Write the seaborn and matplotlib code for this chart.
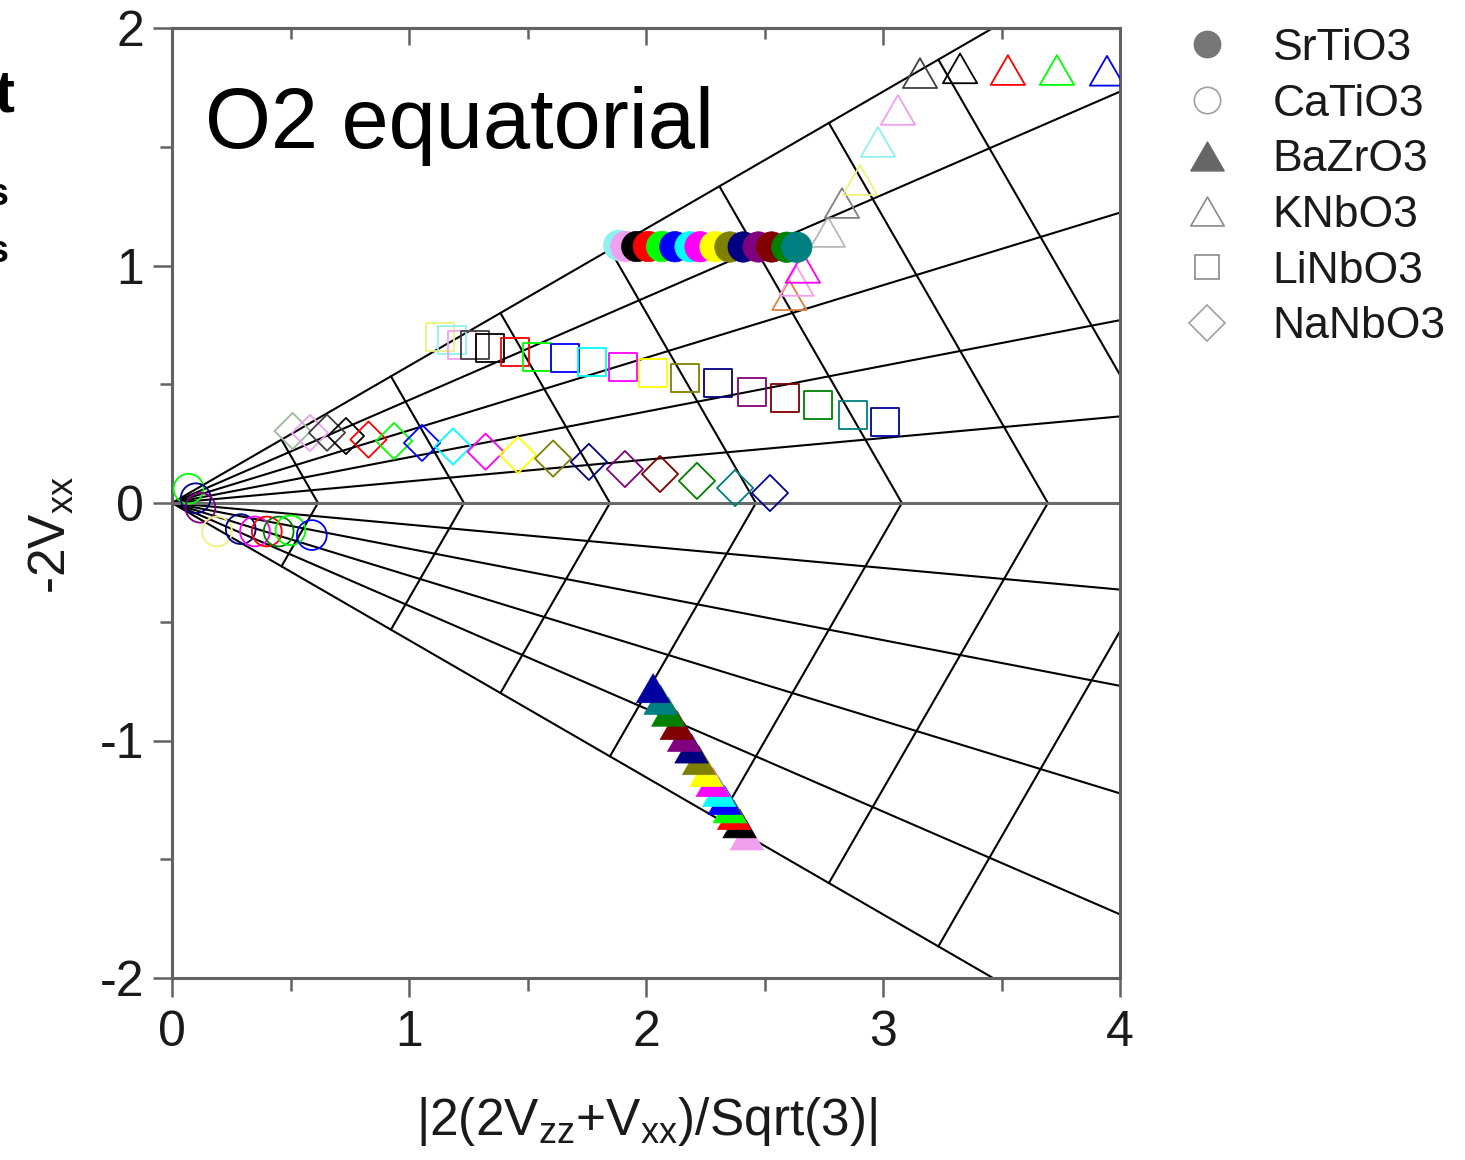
import numpy as np
import pandas as pd
import matplotlib
matplotlib.use("Agg")
import matplotlib.pyplot as plt
import seaborn as sns
from matplotlib.lines import Line2D
from matplotlib.path import Path
from matplotlib.ticker import MultipleLocator

sns.set_theme(style="white")
plt.rcParams["font.family"] = ["Liberation Sans", "DejaVu Sans"]
plt.rcParams["mathtext.fontset"] = "custom"
plt.rcParams["mathtext.rm"] = "Liberation Sans"
plt.rcParams["mathtext.it"] = "Liberation Sans"
plt.rcParams["mathtext.bf"] = "Liberation Sans:bold"
plt.rcParams["axes.unicode_minus"] = False

# Origin-style colour increment list
ORIGIN = {
    "black": "#000000", "red": "#FF0000", "green": "#00FF00", "blue": "#0000FF",
    "cyan": "#00FFFF", "magenta": "#FF00FF", "yellow": "#FFFF00", "dkyellow": "#808000",
    "navy": "#000080", "purple": "#800080", "wine": "#800000", "olive": "#008000",
    "dkcyan": "#008080", "royal": "#0000A0", "orange": "#E08040", "pink": "#FF0080",
    "ltgray": "#B8B8B8", "gray": "#808080", "dkgray": "#404040", "ltyellow": "#F0F080",
    "ltcyan": "#90F0F0", "ltmagenta": "#F0A0F0", "sage": "#9DB89D",
}

# ---- SrTiO3 (filled circles) ----
srtio3_x = [1.885, 1.915, 1.961, 2.010, 2.066, 2.122, 2.186, 2.228, 2.291, 2.354,
            2.410, 2.474, 2.530, 2.594, 2.636]
srtio3_y = [1.085, 1.080, 1.080, 1.080, 1.080, 1.079, 1.079, 1.079, 1.079, 1.078,
            1.078, 1.078, 1.078, 1.077, 1.077]
srtio3_c = ["ltcyan", "ltmagenta", "black", "red", "green", "blue", "cyan", "magenta",
            "yellow", "dkyellow", "navy", "purple", "wine", "olive", "dkcyan"]

# ---- CaTiO3 (open circles) ----
catio3_x = [0.07, 0.10, 0.12, 0.19, 0.29, 0.35, 0.40, 0.45, 0.50, 0.59]
catio3_y = [0.06, 0.02, -0.02, -0.12, -0.11, -0.12, -0.12, -0.12, -0.115, -0.135]
catio3_c = ["green", "navy", "purple", "ltyellow", "navy", "magenta", "red", "olive",
            "green", "blue"]

# ---- BaZrO3 (filled triangles) ----
bazro3_x = [2.426, 2.395, 2.372, 2.354, 2.332, 2.309, 2.282, 2.255, 2.224, 2.192,
            2.161, 2.130, 2.094, 2.062, 2.030]
bazro3_y = [-1.400, -1.349, -1.314, -1.286, -1.251, -1.217, -1.175, -1.133, -1.083,
            -1.034, -0.985, -0.935, -0.879, -0.829, -0.780]
bazro3_c = ["ltmagenta", "black", "red", "green", "blue", "cyan", "magenta", "yellow",
            "dkyellow", "navy", "purple", "wine", "olive", "dkcyan", "royal"]

# ---- KNbO3 (open triangles) ----
knbo3_x = [2.605, 2.635, 2.662, 2.768, 2.827, 2.903, 2.979, 3.063, 3.156, 3.325,
           3.527, 3.734, 3.945]
knbo3_y = [0.875, 0.935, 0.990, 1.141, 1.263, 1.360, 1.520, 1.655, 1.810, 1.830,
           1.823, 1.823, 1.820]
knbo3_c = ["orange", "ltmagenta", "magenta", "ltgray", "gray", "ltyellow", "ltcyan",
           "ltmagenta", "dkgray", "black", "red", "green", "blue"]

# ---- LiNbO3 (open squares) ----
linbo3_x = [1.131, 1.181, 1.224, 1.278, 1.342, 1.447, 1.540, 1.658, 1.772, 1.903,
            2.030, 2.165, 2.304, 2.447, 2.586, 2.726, 2.873, 3.008]
linbo3_y = [0.699, 0.686, 0.665, 0.665, 0.653, 0.636, 0.615, 0.611, 0.594, 0.573,
            0.547, 0.526, 0.505, 0.467, 0.442, 0.413, 0.371, 0.341]
linbo3_c = ["ltyellow", "ltcyan", "ltmagenta", "dkgray", "black", "red", "green",
            "blue", "cyan", "magenta", "yellow", "dkyellow", "navy", "purple", "wine",
            "olive", "dkcyan", "royal"]

# ---- NaNbO3 (open diamonds) ----
nanbo3_x = [0.509, 0.582, 0.654, 0.734, 0.829, 0.937, 1.055, 1.186, 1.323, 1.460,
            1.608, 1.759, 1.911, 2.059, 2.215, 2.376, 2.523]
nanbo3_y = [0.303, 0.295, 0.296, 0.282, 0.267, 0.261, 0.253, 0.238, 0.216, 0.202,
            0.187, 0.173, 0.143, 0.122, 0.093, 0.063, 0.042]
nanbo3_c = ["sage", "ltmagenta", "dkgray", "black", "red", "green", "blue", "cyan",
            "magenta", "yellow", "dkyellow", "navy", "purple", "wine", "olive",
            "dkcyan", "royal"]

series_names = ["SrTiO3", "CaTiO3", "BaZrO3", "KNbO3", "LiNbO3", "NaNbO3"]

# grid of constant asymmetry (eta) and constant |Vzz|
ETA_LINES = [0.0, 0.2, 0.4, 0.6, 0.8]
VZZ_STEP = 0.2667
VZZ_LINES = [VZZ_STEP * k for k in range(1, 8)]

SPINE = "#626262"
TEXT = "#1a1a1a"
TRI = Path([(0, 0.866), (-1, -0.866), (1, -0.866), (0, 0.866)], closed=True)

fig = plt.figure(figsize=(14.65, 11.6), dpi=100)
ax = fig.add_axes([172 / 1465, 1 - 978 / 1160, 948 / 1465, 950 / 1160])

s3 = np.sqrt(3.0)
for eta in ETA_LINES:
    for sgn in (1, -1):
        v = 3.0
        ax.plot([0, v * (3 + eta) / s3], [0, sgn * v * (1 - eta)], color="black",
                lw=1.5, zorder=1.5)
for v in VZZ_LINES:
    ax.plot([s3 * v, 4 * v / s3, s3 * v], [v, 0, -v], color="black", lw=1.5,
            zorder=1.5)
ax.axhline(0, color="#6a6a6a", lw=2.2, zorder=1.6)


def draw_series(x, y, colors, marker, size, filled, lw, z):
    df = pd.DataFrame({"x": x, "y": y, "c": colors})
    sns.scatterplot(data=df, x="x", y="y", hue="c", palette=ORIGIN, marker=marker,
                    s=size, legend=False, ax=ax, linewidth=lw, zorder=z)
    pc = ax.collections[-1]
    rgba = pc.get_facecolors()
    pc.set_edgecolors(rgba)
    if not filled:
        pc.set_facecolors("none")


draw_series(catio3_x, catio3_y, catio3_c, "o", 460, False, 1.3, 3)
draw_series(nanbo3_x, nanbo3_y, nanbo3_c, "D", 340, False, 1.3, 3)
draw_series(linbo3_x, linbo3_y, linbo3_c, "s", 385, False, 1.3, 3)
draw_series(knbo3_x, knbo3_y, knbo3_c, TRI, 610, False, 1.3, 3)
draw_series(bazro3_x, bazro3_y, bazro3_c, TRI, 580, True, 0.5, 4)
draw_series(srtio3_x, srtio3_y, srtio3_c, "o", 480, True, 0.5, 4)

ax.set_xlim(0, 4)
ax.set_ylim(-2, 2)
ax.set_xticks([0, 1, 2, 3, 4])
ax.set_yticks([-2, -1, 0, 1, 2])
ax.xaxis.set_minor_locator(MultipleLocator(0.5))
ax.yaxis.set_minor_locator(MultipleLocator(0.5))
ax.tick_params(which="major", direction="out", length=14, width=1.8, color=SPINE,
               labelsize=36, labelcolor=TEXT, top=False, right=False,
               bottom=True, left=True)
ax.tick_params(which="minor", direction="out", length=9, width=1.8, color=SPINE,
               top=False, right=False, bottom=True, left=True)
ax.tick_params(axis="y", pad=6)
ax.tick_params(axis="x", pad=9)
for sp in ax.spines.values():
    sp.set_color(SPINE)
    sp.set_linewidth(2.2)

top = ax.secondary_xaxis("top")
top.set_xticks([0, 1, 2, 3, 4])
top.xaxis.set_minor_locator(MultipleLocator(0.5))
top.tick_params(which="major", direction="in", length=12, width=1.8, color=SPINE,
                labeltop=False, labelbottom=False)
top.tick_params(which="minor", direction="in", length=8, width=1.8, color=SPINE)
top.spines["top"].set_color(SPINE)
top.spines["top"].set_linewidth(2.2)

ax.set_xlabel(r"|2(2V$_{\mathrm{zz}}$+V$_{\mathrm{xx}}$)/Sqrt(3)|", fontsize=37,
              color=TEXT, va="center")
ax.xaxis.set_label_coords(0.5, (978 - 1122) / 950)
ax.set_ylabel(r"-2V$_{\mathrm{xx}}$", fontsize=37, color=TEXT, va="center",
              ha="center")
ax.yaxis.set_label_coords((52 - 172) / 948, (978 - 535) / 950)

ax.text(0.035, (978 - 148) / 950, "O2 equatorial", transform=ax.transAxes,
        fontsize=61, ha="left", va="baseline", color="black")

# legend
handles = [
    Line2D([], [], ls="none", marker="o", ms=19, mfc="#777777", mec="#777777"),
    Line2D([], [], ls="none", marker="o", ms=19, mfc="none", mec="#a0a0a0", mew=1.2),
    Line2D([], [], ls="none", marker=TRI, ms=24, mfc="#666666", mec="#666666"),
    Line2D([], [], ls="none", marker=TRI, ms=24, mfc="none", mec="#8a8a8a", mew=1.2),
    Line2D([], [], ls="none", marker="s", ms=17, mfc="none", mec="#8a8a8a", mew=1.2),
    Line2D([], [], ls="none", marker="D", ms=18, mfc="none", mec="#a0a0a0", mew=1.2),
]
fig.legend(handles, series_names, loc="upper left",
           bbox_to_anchor=(1180 / 1465, 1 - 28 / 1160), frameon=False, fontsize=32,
           handlelength=1.2, handletextpad=0.88, labelspacing=0.33, borderpad=0,
           borderaxespad=0, labelcolor=TEXT)

# neighbouring text cut at the left edge
fig.text(14 / 1465, 1 - 112 / 1160, "t", ha="right", va="baseline", fontsize=43,
         fontweight="bold", color="black")
fig.text(9 / 1465, 1 - 205 / 1160, "s", ha="right", va="baseline", fontsize=27,
         fontweight="bold", color="black")
fig.text(9 / 1465, 1 - 262 / 1160, "s", ha="right", va="baseline", fontsize=27,
         fontweight="bold", color="black")

fig.savefig("out.png", dpi=100)
